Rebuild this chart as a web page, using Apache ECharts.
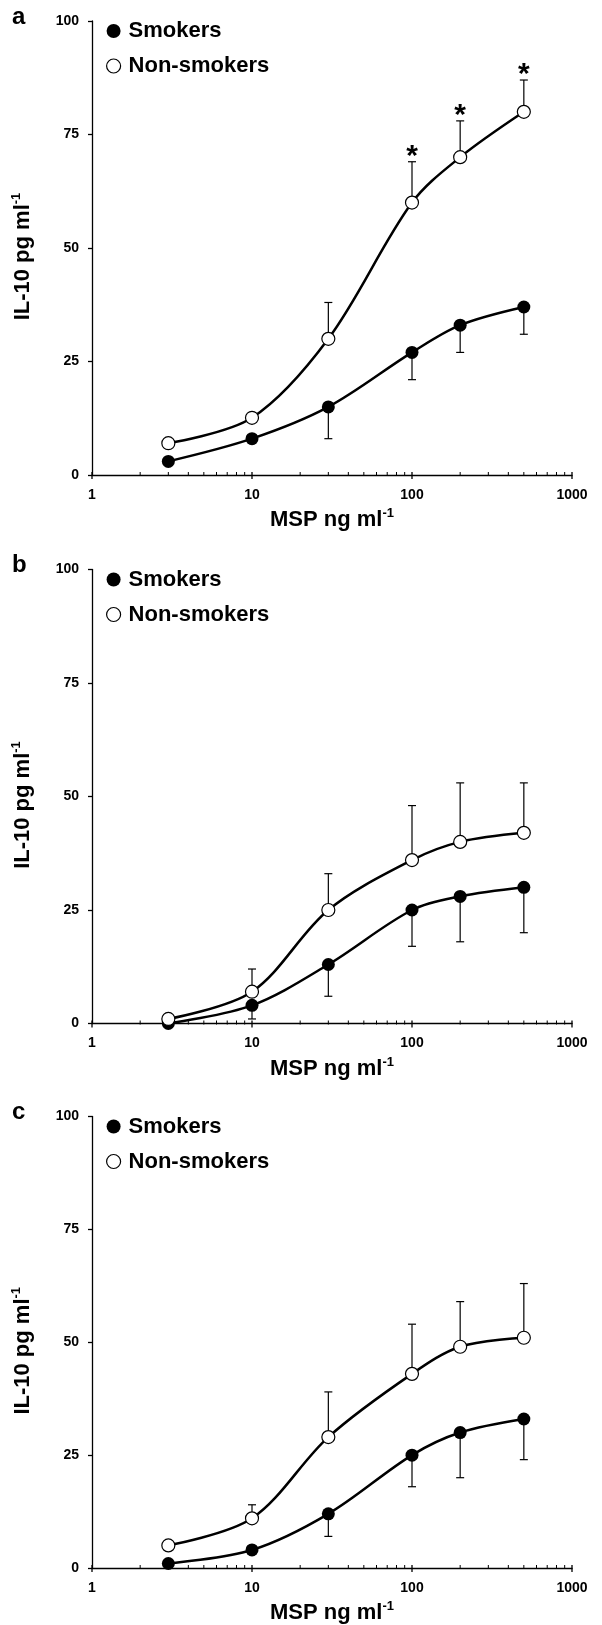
<!DOCTYPE html>
<html><head><meta charset="utf-8">
<script src="https://cdn.jsdelivr.net/npm/echarts@6/dist/echarts.min.js"></script>
<style>html,body{margin:0;padding:0;background:#fff}#c{width:602px;height:1625px}</style>
</head><body><div id="c"></div><script>
// ---- data ----
const doses = [3, 10, 30, 100, 200, 500];
const majorTicks = [1, 10, 100, 1000];
const minorTicks = [2,3,4,5,6,7,8,9,20,30,40,50,60,70,80,90,200,300,400,500,600,700,800,900];
const panelLabels = ['a', 'b', 'c'];
const seriesNames = ['Smokers', 'Non-smokers'];
const xTitle = 'MSP ng ml';
const yTitle = 'IL-10 pg ml';
const unitSup = '-1';

const smokersA = [3, 8, 15, 27, 33, 37];
const smokersErrA = [0, 0, 7, 6, 6, 6];
const nonSmokersA = [7, 12.6, 30, 60, 70, 80];
const nonSmokersErrA = [0, 0, 8, 9, 8, 7];
const starsA = [0, 0, 0, 1, 1, 1];

const smokersB = [0, 4, 13, 25, 28, 30];
const smokersErrB = [0, 3, 7, 8, 10, 10];
const nonSmokersB = [1, 7, 25, 36, 40, 42];
const nonSmokersErrB = [0, 5, 8, 12, 13, 11];
const starsB = [0, 0, 0, 0, 0, 0];

const smokersC = [1, 4, 12, 25, 30, 33];
const smokersErrC = [0, 0, 5, 7, 10, 9];
const nonSmokersC = [5, 11, 29, 43, 49, 51];
const nonSmokersErrC = [0, 3, 10, 11, 10, 12];
const starsC = [0, 0, 0, 0, 0, 0];

// ---- layout ----
const FONT = '"Liberation Sans", Arial, Helvetica, sans-serif';
const panelTops = [21, 569.5, 1116.5];
const gridH = 454, gridLeft = 92, gridW = 480;

const panels = [
  {s: smokersA, se: smokersErrA, n: nonSmokersA, ne: nonSmokersErrA, st: starsA},
  {s: smokersB, se: smokersErrB, n: nonSmokersB, ne: nonSmokersErrB, st: starsB},
  {s: smokersC, se: smokersErrC, n: nonSmokersC, ne: nonSmokersErrC, st: starsC}
];

function errRender(params, api) {
  const x = api.value(0), y = api.value(1), e = api.value(2), dir = api.value(3);
  if (!e) return null;
  const p0 = api.coord([x, y]);
  const p1 = api.coord([x, y + dir * e]);
  const st = {stroke: '#000', lineWidth: 1.2};
  return {type: 'group', children: [
    {type: 'line', shape: {x1: p0[0], y1: p0[1], x2: p1[0], y2: p1[1]}, style: st},
    {type: 'line', shape: {x1: p1[0] - 4, y1: p1[1], x2: p1[0] + 4, y2: p1[1]}, style: st}
  ]};
}
function starRender(params, api) {
  const p = api.coord([api.value(0), api.value(1)]);
  return {type: 'text', style: {text: '*', x: p[0], y: p[1] - 5, align: 'center', verticalAlign: 'middle',
    font: 'bold 30px ' + FONT, fill: '#000'}};
}
function tickRender(params, api) {
  const p = api.coord([api.value(0), 0]);
  const major = api.value(1);
  return {type: 'line', shape: {x1: p[0], y1: p[1] - 3, x2: p[0], y2: p[1] + (major ? 4 : 1)},
    style: {stroke: '#000', lineWidth: major ? 1.3 : 1}};
}

const grids = [], xAxes = [], yAxes = [], series = [], legends = [], titles = [];
panels.forEach((P, i) => {
  const top = panelTops[i];
  grids.push({left: gridLeft, top: top, width: gridW, height: gridH, containLabel: false});
  xAxes.push({
    type: 'log', logBase: 10, min: 1, max: 1000, gridIndex: i,
    name: '{t|' + xTitle + '}{s|' + unitSup + '}', nameLocation: 'middle', nameGap: 32,
    nameTextStyle: {rich: {
      t: {fontSize: 22, fontWeight: 'bold', fontFamily: FONT, color: '#000', lineHeight: 26},
      s: {fontSize: 13, fontWeight: 'bold', fontFamily: FONT, color: '#000', verticalAlign: 'top', lineHeight: 13}
    }},
    axisLine: {lineStyle: {color: '#000', width: 1.3}},
    axisTick: {show: false},
    splitLine: {show: false}, minorTick: {show: false},
    axisLabel: {color: '#000', fontSize: 14, fontWeight: 'bold', fontFamily: FONT, margin: 13,
      formatter: v => String(Math.round(v))}
  });
  yAxes.push({
    type: 'value', min: 0, max: 100, interval: 25, gridIndex: i,
    name: '{t|' + yTitle + '}{s|' + unitSup + '}', nameLocation: 'middle', nameGap: 56,
    nameTextStyle: {padding: [0, 17, 0, 0], rich: {
      t: {fontSize: 22, fontWeight: 'bold', fontFamily: FONT, color: '#000', lineHeight: 26},
      s: {fontSize: 13, fontWeight: 'bold', fontFamily: FONT, color: '#000', verticalAlign: 'top', lineHeight: 13}
    }},
    axisLine: {show: true, lineStyle: {color: '#000', width: 1.3}},
    axisTick: {show: true, length: 4, lineStyle: {color: '#000', width: 1.3}},
    splitLine: {show: false},
    axisLabel: {color: '#000', fontSize: 14, fontWeight: 'bold', fontFamily: FONT, margin: 13}
  });
  // x ticks (major + minor)
  series.push({type: 'custom', xAxisIndex: i, yAxisIndex: i, renderItem: tickRender, clip: false, silent: true,
    data: majorTicks.map(v => [v, 1]).concat(minorTicks.map(v => [v, 0])), z: 1});
  // error bars
  series.push({type: 'custom', xAxisIndex: i, yAxisIndex: i, renderItem: errRender, clip: false, silent: true, z: 2,
    data: doses.map((d, k) => [d, P.s[k], P.se[k], -1]).concat(doses.map((d, k) => [d, P.n[k], P.ne[k], 1]))});
  // lines
  series.push({name: seriesNames[0], type: 'line', xAxisIndex: i, yAxisIndex: i, z: 3,
    data: doses.map((d, k) => [d, P.s[k]]), smooth: 0.33,
    symbol: 'circle', symbolSize: 13, showAllSymbol: true,
    lineStyle: {color: '#000', width: 2.5}, itemStyle: {color: '#000', borderWidth: 0}});
  series.push({name: seriesNames[1], type: 'line', xAxisIndex: i, yAxisIndex: i, z: 4,
    data: doses.map((d, k) => [d, P.n[k]]), smooth: 0.33,
    symbol: 'circle', symbolSize: 13, showAllSymbol: true,
    lineStyle: {color: '#000', width: 2.5}, itemStyle: {color: '#fff', borderColor: '#000', borderWidth: 1.2}});
  // asterisks
  const starData = doses.map((d, k) => P.st[k] ? [d, P.n[k] + P.ne[k]] : null).filter(Boolean);
  if (starData.length) series.push({type: 'custom', xAxisIndex: i, yAxisIndex: i, renderItem: starRender, clip: false,
    silent: true, data: starData, z: 5});
  legends.push({
    orient: 'vertical', left: 106, top: top - 1, padding: 0, itemGap: 13, itemWidth: 14, itemHeight: 14,
    selectedMode: false,
    textStyle: {fontSize: 22, fontWeight: 'bold', fontFamily: FONT, color: '#000', padding: [0, 0, 0, 3]},
    data: [
      {name: seriesNames[0], icon: 'circle', itemStyle: {color: '#000', borderWidth: 0}},
      {name: seriesNames[1], icon: 'circle', itemStyle: {color: '#fff', borderColor: '#000', borderWidth: 1.2}}
    ]
  });
  titles.push({text: panelLabels[i], left: 12, top: top - 16, padding: 0,
    textStyle: {fontSize: 24, fontWeight: 'bold', fontFamily: FONT, color: '#000'}});
});

const chart = echarts.init(document.getElementById('c'), null, {renderer: 'canvas'});
chart.setOption({
  animation: false, backgroundColor: '#fff',
  title: titles, legend: legends, grid: grids, xAxis: xAxes, yAxis: yAxes, series: series
});
</script></body></html>
